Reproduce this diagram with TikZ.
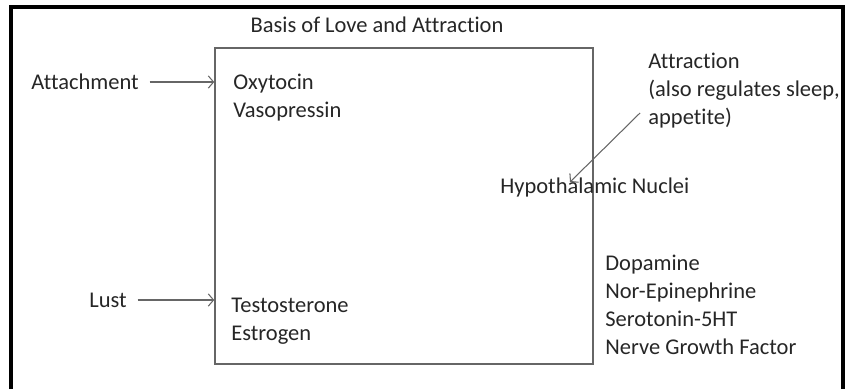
\documentclass[tikz,border=0pt]{standalone}
\usepackage{fontspec}
\setmainfont{Carlito}[Ligatures=NoCommon]
\usetikzlibrary{arrows.meta}

\begin{document}
\begin{tikzpicture}[x=0.02cm,y=-0.02cm,>={Straight Barb[length=3pt,width=7pt]},
  every node/.style={inner sep=0pt,text=black!85,font=\fontsize{12.8}{15.9}\selectfont},
  lbl/.style={anchor=west,align=left},
  ln/.style={draw=black!60,line width=0.6pt}]
\useasboundingbox (0,0) rectangle (847,389);
\draw[line width=1.8pt] (11,389) -- (11,7) -- (843,7) -- (843,389);
\node (title) at (377,25) {Basis of Love and Attraction};
\node[ln,line width=0.9pt,minimum width=7.56cm,minimum height=6.32cm] (box) at (404,206) {};
\node[lbl] (att) at (31,82) {Attachment};
\node[lbl] (oxy) at (233,98) {Oxytocin\\Vasopressin};
\node[lbl] (attr) at (648,91) {Attraction\\(also regulates sleep,\\appetite)};
\node[lbl] (hyp) at (500,187) {Hypothalamic Nuclei};
\node[lbl] (lust) at (89,300) {Lust};
\node[lbl] (test) at (231,321) {Testosterone\\Estrogen};
\node[lbl] (chem) at (605,305) {Dopamine\\Nor-Epinephrine\\Serotonin-5HT\\Nerve Growth Factor};
\coordinate (afoot) at (640,113);
\draw[ln,->,shorten <=6pt] (att.east) -- (att.east -| box.west);
\draw[ln,->,shorten <=6pt] (lust.east) -- (lust.east -| box.west);
\draw[ln,->] (afoot) -- ([xshift=1.4cm,yshift=-0.1cm]hyp.north west);
\end{tikzpicture}
\end{document}
